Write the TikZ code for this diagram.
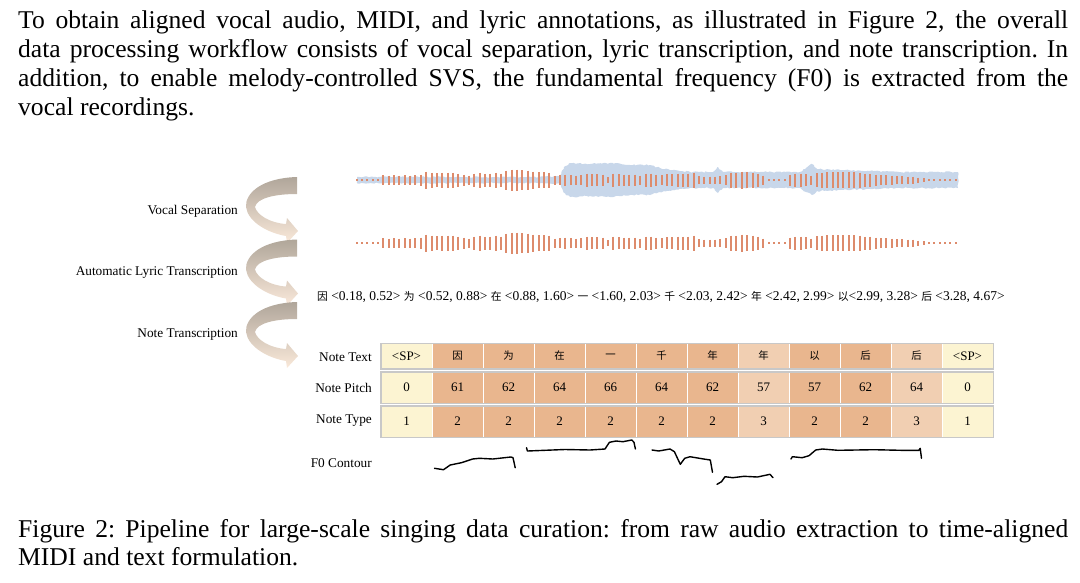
\documentclass[tikz,border=0pt]{standalone}
\usepackage{fontspec}
\setmainfont{Liberation Serif}
\newfontfamily\cjk[Scale=0.8]{Noto Sans CJK SC}
\usetikzlibrary{decorations.pathmorphing}
\definecolor{barorange}{RGB}{221,139,108}
\definecolor{wavebg}{RGB}{200,215,234}
\definecolor{type1}{RGB}{252,244,210}
\definecolor{type2}{RGB}{233,182,142}
\definecolor{type3}{RGB}{241,207,178}
\definecolor{framegray}{RGB}{200,200,200}
\definecolor{arrowtop}{RGB}{176,166,154}
\definecolor{arrowmid}{RGB}{226,207,189}
\definecolor{arrowbot}{RGB}{250,233,218}
\newcommand\zh[1]{{\cjk #1}}
\frenchspacing

\begin{document}
\begin{tikzpicture}[x=1pt, y=-1pt,
  para/.style={anchor=base west, inner sep=0, font=\fontsize{25.6}{29}\selectfont},
  steplabel/.style={anchor=east, inner sep=0, font=\fontsize{13.3}{15}\selectfont},
  rowlabel/.style={anchor=east, inner sep=0, font=\fontsize{13.3}{15}\selectfont},
  cell/.style={minimum width=51pt, inner sep=0, draw=white, line width=0.5pt, font=\fontsize{13}{15}\selectfont},
  rowframe/.style={draw=framegray, line width=1.5pt},
  bar/.style={draw=barorange, line width=2pt},
  f0/.style={line width=1.4pt, line join=round, line cap=round}]
  \useasboundingbox (0,0) rectangle (1080,582);
  \pgfmathsetseed{7}

  \node[para] (line1) at (18,28) {\makebox[1050pt][s]{To obtain aligned vocal audio, MIDI, and lyric annotations, as illustrated in Figure 2, the overall}};
  \node[para] (line2) at (18,57) {\makebox[1050pt][s]{data processing workflow consists of vocal separation, lyric transcription, and note transcription. In}};
  \node[para] (line3) at (18,86) {\makebox[1050pt][s]{addition, to enable melody-controlled SVS, the fundamental frequency (F0) is extracted from the}};
  \node[para] (line4) at (18,115) {vocal recordings.};

  \node[steplabel] (sep) at (238,211) {Vocal Separation};
  \node[steplabel] (alt) at (238,273) {Automatic Lyric Transcription};
  \node[steplabel] (nt)  at (238,335) {Note Transcription};

  \foreach \dy in {0,62.5,125} {
    \shade[top color=arrowtop, middle color=arrowmid, bottom color=arrowbot, shift={(0,\dy)}]
      (297,177) .. controls (262,178) and (245,193) .. (246,207)
      .. controls (248,222) and (268,233) .. (286,236)
      -- (287,243) -- (298,231) -- (287,218) -- (286,224)
      .. controls (270,223) and (257,215) .. (255,207)
      .. controls (257,198) and (275,194) .. (297,194) -- cycle;
  }

  \fill[wavebg, decorate, decoration={random steps, segment length=2pt, amplitude=0.7pt}]
    (357,177) -- (440,176.8) -- (520,177.2) -- (560,176.5) -- (564,167) -- (570,163) -- (590,164)
    -- (610,163) -- (630,165) -- (650,165) -- (660,168) -- (673,170) -- (690,172) -- (713,172)
    -- (718,167) -- (723,172) -- (760,172) -- (800,172) -- (806,168) -- (812,164) -- (817,169)
    -- (840,170) -- (873,171) -- (900,172) -- (958,172) -- (958,188) -- (900,188) -- (873,189)
    -- (840,190) -- (817,191) -- (812,195) -- (806,192) -- (800,188) -- (760,188) -- (723,188)
    -- (718,193) -- (713,188) -- (690,188) -- (673,190) -- (660,192) -- (650,195) -- (630,195)
    -- (610,197) -- (590,196) -- (570,197) -- (564,193) -- (560,183.5) -- (520,182.8)
    -- (440,183.2) -- (357,183) -- cycle;

  \foreach \h [count=\i from 0] in {1.5,1.5,1.5,1.5,1.5,
      10,9,10,9,10,9,10,11,17,15,14,15,15,15,13,11,9,13,15,13,13,15,13,19,
      21,21,20,19,17,16,16,15,9,10,11,10,9,10,13,12,12,11,6,13,12,11,11,11,9,13,13,11,10,
      12,12,13,13,13,15,8,7,7,7,8,10,15,15,17,16,15,13,9,
      1.5,1.5,1.5,1.5,
      11,13,13,12,9,14,
      15,16,16,16,16,16,16,15,13,13,11,10,10,9,8,8,7,7,5,4,2,
      1.5,1.5,1.5,1.5,1.5} {
    \draw[bar] ({356.6+5.35*\i},{180-\h/2}) -- ++(0,\h);
    \draw[bar] ({356.6+5.35*\i},{243-\h/2}) -- ++(0,\h);
  }

  \node[anchor=west, inner sep=0, font=\fontsize{13.5}{15}\selectfont] (lyrics) at (317,297)
    {\zh{因} <0.18, 0.52> \zh{为} <0.52, 0.88> \zh{在} <0.88, 1.60> \zh{一} <1.60, 2.03> \zh{千} <2.03, 2.42> \zh{年} <2.42, 2.99> \zh{以}<2.99, 3.28> \zh{后} <3.28, 4.67>};

  \foreach \txt/\pitch/\kind [count=\i] in {<SP>/0/1, \zh{因}/61/2, \zh{为}/62/2, \zh{在}/64/2,
      \zh{一}/66/2, \zh{千}/64/2, \zh{年}/62/2, \zh{年}/57/3, \zh{以}/57/2, \zh{后}/62/2,
      \zh{后}/64/3, <SP>/0/1} {
    \node[cell, fill=type\kind, minimum height=25pt] (text\i) at ({355.5+51*\i},356) {\txt};
    \node[cell, fill=type\kind, minimum height=31pt] (pitch\i) at ({355.5+51*\i},387.5) {\pitch};
    \node[cell, fill=type\kind, minimum height=31pt] (kind\i) at ({355.5+51*\i},421.5) {\kind};
  }
  \draw[rowframe] (text1.north west) rectangle (text12.south east);
  \draw[rowframe] (pitch1.north west) rectangle (pitch12.south east);
  \draw[rowframe] (kind1.north west) rectangle (kind12.south east);

  \node[rowlabel] (textlabel)  at (372,357) {Note Text};
  \node[rowlabel] (pitchlabel) at (372,388) {Note Pitch};
  \node[rowlabel] (kindlabel)  at (372,421) {Note Type};
  \node[rowlabel] (f0label)    at (372,463) {F0 Contour};

  \draw[f0] plot coordinates {(434.5,468.3) (443.5,469.7) (450.2,465) (461.4,462.7) (472.6,459)
    (479.4,458.3) (492.8,459) (510.8,457) (513,457.7) (515.2,467.7)};
  \draw[f0] plot coordinates {(526.5,447.7) (527.4,451) (545,450.3) (565,449.5) (590,450) (605,449)
    (609.4,442.3) (616,441) (622.9,441.7) (631.8,440) (634,442.3) (635.4,449)};
  \draw[f0] plot coordinates {(652,450) (658.7,451) (670,449) (674.4,451.7) (680.3,464.3)
    (684.7,458.3) (690,456.7) (703.6,459) (710.3,460) (712.5,472.3)};
  \draw[f0] plot coordinates {(717,484.3) (721.5,481.7) (725,476.7) (732.7,477.7) (744,476.3)
    (757.4,477) (770,474.3) (773,477.7)};
  \draw[f0] plot coordinates {(791,459) (792.4,456.7) (802.2,457.7) (809,455.7) (815.7,450)
    (822.4,449) (838,450.3) (874,449.7) (901,450.3) (918.8,450.3) (920.2,448.3) (921.5,458.3)};

  \node[para] (cap1) at (18,537) {\makebox[1050pt][s]{Figure 2: Pipeline for large-scale singing data curation: from raw audio extraction to time-aligned}};
  \node[para] (cap2) at (18,565) {MIDI and text formulation.};
\end{tikzpicture}
\end{document}
